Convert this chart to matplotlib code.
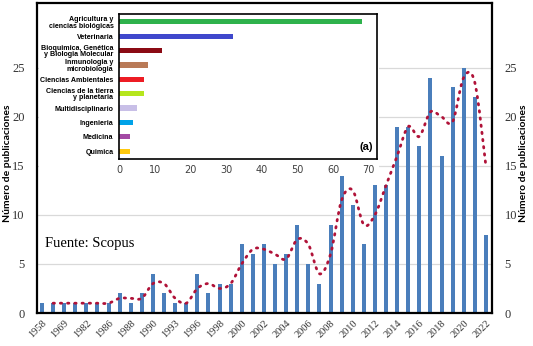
import matplotlib
matplotlib.use("Agg")
import matplotlib.pyplot as plt
from matplotlib.path import Path
from matplotlib.patches import PathPatch, Rectangle

# publicaciones por año (Scopus)
years = ['1958', '1966', '1969', '1977', '1982', '1985', '1986', '1987', '1988', '1989',
         '1990', '1991', '1993', '1995', '1996', '1997', '1998', '1999', '2000', '2001',
         '2002', '2003', '2004', '2005', '2006', '2007', '2008', '2009', '2010', '2011',
         '2012', '2013', '2014', '2015', '2016', '2017', '2018', '2019', '2020', '2021', '2022']
pubs = [1, 1, 1, 1, 1, 1, 1, 2, 1, 2,
        4, 2, 1, 1, 4, 2, 3, 3, 7, 6,
        7, 5, 6, 9, 5, 3, 9, 14, 11, 7,
        13, 13, 19, 19, 17, 24, 16, 23, 25, 22, 8]
# media movil (2 periodos), empieza en el segundo año
trend = [1, 1, 1, 1, 1, 1, 1.5, 1.5, 1.5, 3,
         3, 1.5, 1, 2.5, 3, 2.5, 3, 5, 6.5, 6.5,
         6, 5.5, 7.5, 7, 4, 6, 11.5, 12.5, 9, 10,
         13, 16, 19, 18, 20.5, 20, 19.5, 24, 23.5, 15]

# inset (a): areas tematicas
areas = ['Agricultura y\nciencias biológicas', 'Veterinaria',
         'Bioquimica, Genética\ny Biologia Molecular', 'Inmunologia y\nmicrobiologia',
         'Ciencias Ambientales', 'Ciencias de la tierra\ny planetaria',
         'Multidisciplinario', 'Ingenieria', 'Medicina', 'Quimica']
area_vals = [68, 32, 12, 8, 7, 7, 5, 4, 3, 3]
area_cols = ['#2EB24C', '#3F48CC', '#8B0A14', '#B97A57', '#ED1C24',
             '#B5E61D', '#C8BFE7', '#00A2E8', '#A349A4', '#FFC90E']

W, H = 533, 346
fig = plt.figure(figsize=(W / 100, H / 100), dpi=100)

def fx(px):
    return px / W

def fy(py):
    return 1 - py / H

ax = fig.add_axes([fx(37), fy(313), fx(492) - fx(37), fy(3) - fy(313)])
x = list(range(len(pubs)))
ax.bar(x, pubs, width=0.36, color='#4A7EBB', zorder=2)

# linea de tendencia suavizada (curva tipo Excel)
tx = x[1:]
pts = list(zip(tx, trend))
verts = [pts[0]]
codes = [Path.MOVETO]
for i in range(len(pts) - 1):
    p0 = pts[i - 1] if i > 0 else pts[i]
    p1 = pts[i]
    p2 = pts[i + 1]
    p3 = pts[i + 2] if i + 2 < len(pts) else pts[i + 1]
    c1 = (p1[0] + (p2[0] - p0[0]) / 6, p1[1] + (p2[1] - p0[1]) / 6)
    c2 = (p2[0] - (p3[0] - p1[0]) / 6, p2[1] - (p3[1] - p1[1]) / 6)
    verts += [c1, c2, p2]
    codes += [Path.CURVE4] * 3
ax.add_patch(PathPatch(Path(verts, codes), fill=False, edgecolor='#B01238', lw=2.0,
                       linestyle=(0, (0.5, 2.1)), capstyle='round', zorder=3))

ax.set_xlim(-0.45, 40.55)
ax.set_ylim(0, 31.6)
ax.set_yticks([0, 5, 10, 15, 20, 25])
ax.set_xticks(x[::2])
ax.set_xticklabels(years[::2], rotation=45, ha='right', rotation_mode='anchor',
                   fontsize=7.5, family='Liberation Serif', color='#333333')
ax.tick_params(axis='x', length=0, pad=4)
ax.tick_params(axis='y', length=0, pad=9, labelsize=9, labelcolor='#333333',
               labelright=True)
for t in ax.yaxis.get_major_ticks():
    t.label1.set_family('Liberation Serif')
    t.label2.set_family('Liberation Serif')
    t.label2.set_fontsize(9)
ax.grid(axis='y', color='#D9D9D9', lw=0.9, zorder=0)
ax.set_axisbelow(True)
for s in ax.spines.values():
    s.set_linewidth(1.6)
    s.set_color('black')

ax.text(0.3, 6.7, 'Fuente: Scopus', fontsize=10.5, family='Liberation Serif', zorder=4)

fig.text(fx(8), fy(163), 'Número de publicaciones', rotation=90, ha='center', va='center',
         fontsize=7.5, fontweight='bold', family='Lato')
fig.text(fx(523), fy(163), 'Número de publicaciones', rotation=90, ha='center', va='center',
         fontsize=7.5, fontweight='bold', family='Lato')

# fondo blanco del grafico insertado
fig.add_artist(Rectangle((fx(38.5), fy(175)), fx(379) - fx(38.5), fy(4.5) - fy(175),
                         transform=fig.transFigure, facecolor='white', edgecolor='none',
                         zorder=1))

ins = fig.add_axes([fx(119), fy(159), fx(377) - fx(119), fy(14) - fy(159)], zorder=2)
ypos = list(range(len(areas)))
ins.barh(ypos, area_vals, height=0.36, color=area_cols)
ins.set_ylim(9.55, -0.55)
ins.set_xlim(0, 72.3)
ins.set_xticks([0, 10, 20, 30, 40, 50, 60, 70])
ins.set_yticks(ypos)
ins.set_yticklabels(areas, fontsize=5.1, fontweight='bold', family='Liberation Sans',
                    linespacing=0.95)
ins.tick_params(axis='y', length=0, pad=4)
ins.tick_params(axis='x', length=0, pad=4, labelsize=7, labelcolor='#404040')
for s in ins.spines.values():
    s.set_linewidth(1.2)
ins.text(0.985, 0.05, '(a)', transform=ins.transAxes, ha='right', va='bottom',
         fontsize=8, fontweight='bold', family='Liberation Sans')

fig.savefig('out.png', dpi=100)
